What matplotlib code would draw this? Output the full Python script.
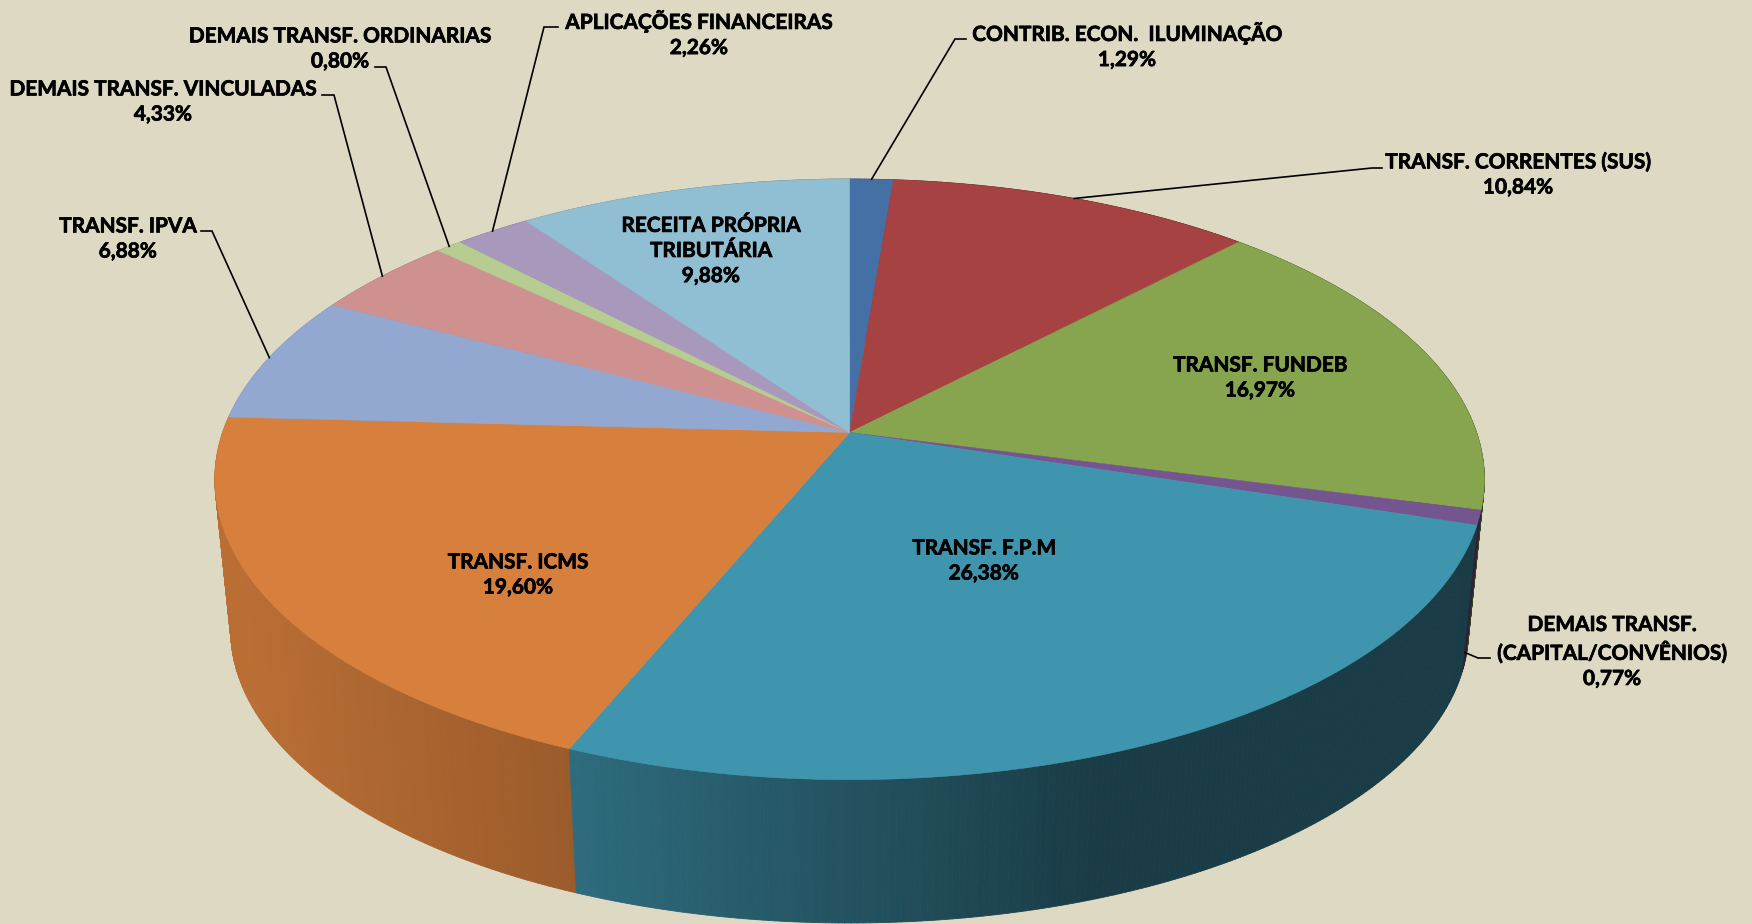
import numpy as np
import matplotlib
matplotlib.use("Agg")
import matplotlib.pyplot as plt
import matplotlib.patheffects as pe
from matplotlib.collections import PolyCollection
from matplotlib.patches import Polygon
from matplotlib.colors import to_rgb

# Data, clockwise from 12 o'clock
categories = ["CONTRIB. ECON.  ILUMINAÇÃO", "TRANSF. CORRENTES (SUS)", "TRANSF. FUNDEB",
              "DEMAIS TRANSF.\n(CAPITAL/CONVÊNIOS)", "TRANSF. F.P.M", "TRANSF. ICMS",
              "TRANSF. IPVA", "DEMAIS TRANSF. VINCULADAS", "DEMAIS TRANSF. ORDINARIAS",
              "APLICAÇÕES FINANCEIRAS", "RECEITA PRÓPRIA\nTRIBUTÁRIA"]
values = [1.29, 10.84, 16.97, 0.77, 26.38, 19.60, 6.88, 4.33, 0.80, 2.26, 9.88]
value_labels = ["1,29%", "10,84%", "16,97%", "0,77%", "26,38%", "19,60%",
                "6,88%", "4,33%", "0,80%", "2,26%", "9,88%"]
colors = ["#4470A6", "#A64242", "#87A44E", "#74558F", "#4095AE", "#D77F3C",
          "#93A8D0", "#CF9090", "#B7CC91", "#A898BC", "#90BFD4"]

# Layout (pixels)
label_xy = [(1127, 46), (1518, 175), (1260, 378), (1612, 652), (984, 561), (518, 575),
            (128, 239), (163, 102), (340, 49), (699, 34), (711, 251)]
elbows = [[(955, 39), (966, 39)], [(1372, 168), (1382, 168)], None,
          [(1478, 658), (1490, 658)], None, None,
          [(212, 231), (201, 231)], [(334, 95), (322, 95)], [(386, 67), (375, 67)],
          [(544, 27), (558, 27)], None]
BG = "#DDD9C3"
CX, CY, A, B, K = 849.6, 432.5, 627.0, 293.0, 0.156
DEPTH, SCALE = 152.0, 0.975
SIDE_LEADER_FRACTION = 0.9
SHADE_X = [228, 570, 1100, 1480]
SHADE_F = [0.87, 0.72, 0.40, 0.40]


def top(theta):
    u, v = np.sin(theta), np.cos(theta)
    w = 1 + K * v
    return CX + A * u / w, CY - B * v / w


def bottom(theta):
    x, y = top(theta)
    return CX + SCALE * (x - CX), CY + DEPTH + SCALE * (y - CY)


fig = plt.figure(figsize=(17.52, 9.24), dpi=100, facecolor=BG)
ax = fig.add_axes([0, 0, 1, 1])
ax.set_xlim(0, 1752)
ax.set_ylim(924, 0)
ax.axis("off")

edges = 2 * np.pi * np.concatenate([[0], np.cumsum(values)]) / np.sum(values)

# Side wall
polys, facecolors, order = [], [], []
for i, col in enumerate(colors):
    n = max(2, int(np.degrees(edges[i + 1] - edges[i]) * 2))
    t = np.linspace(edges[i], edges[i + 1], n + 1)
    xt, yt = top(t)
    xb, yb = bottom(t)
    base = np.array(to_rgb(col))
    for j in range(n):
        polys.append([(xt[j], yt[j]), (xt[j + 1], yt[j + 1]), (xb[j + 1], yb[j + 1]), (xb[j], yb[j])])
        f = np.interp((xt[j] + xt[j + 1]) / 2, SHADE_X, SHADE_F)
        facecolors.append(tuple(base * f))
        order.append(yt[j])
idx = np.argsort(order)
ax.add_collection(PolyCollection([polys[i] for i in idx], facecolors=[facecolors[i] for i in idx],
                                 edgecolors=[facecolors[i] for i in idx], linewidths=0.6, zorder=1))

# Top face
for i, col in enumerate(colors):
    n = max(4, int(np.degrees(edges[i + 1] - edges[i]) * 3))
    t = np.linspace(edges[i], edges[i + 1], n + 1)
    xt, yt = top(t)
    pts = np.vstack([[CX, CY], np.column_stack([xt, yt])])
    ax.add_patch(Polygon(pts, closed=True, facecolor=col, edgecolor=col, linewidth=0.4, zorder=2))

# Leader lines
for i, el in enumerate(elbows):
    if el is None:
        continue
    mid = (edges[i] + edges[i + 1]) / 2
    sx, sy = top(mid)
    if categories[i].startswith("DEMAIS TRANSF.\n"):
        bx, by = bottom(mid)
        sx += SIDE_LEADER_FRACTION * (bx - sx)
        sy += SIDE_LEADER_FRACTION * (by - sy)
    ax.plot([sx, el[0][0], el[1][0]], [sy, el[0][1], el[1][1]], color="black", lw=1.2,
            solid_joinstyle="miter", zorder=3)

# Labels
for cat, val, (x, y) in zip(categories, value_labels, label_xy):
    ax.text(x, y, f"{cat}\n{val}", ha="center", va="center", family="Lato", weight="bold",
            fontsize=15, linespacing=1.32, color="black", zorder=4,
            path_effects=[pe.withStroke(linewidth=0.5, foreground="black")])

fig.savefig("out.png", dpi=100, facecolor=BG)
